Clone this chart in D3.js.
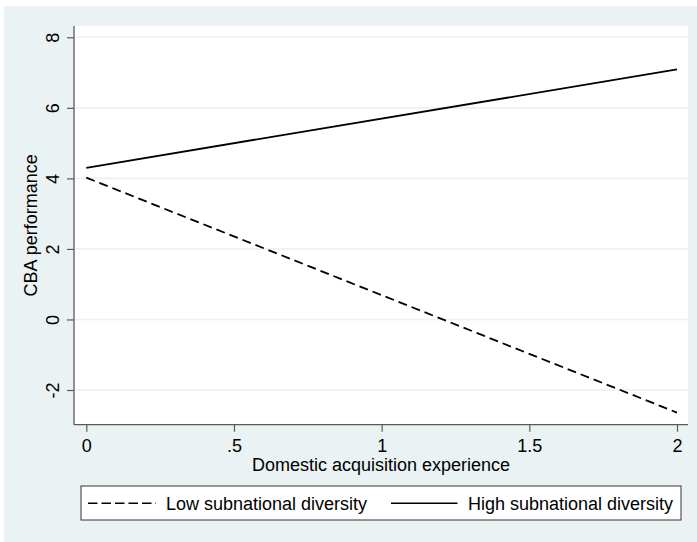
<!DOCTYPE html>
<html>
<head>
<meta charset="utf-8">
<script src="https://cdn.jsdelivr.net/npm/d3@7/dist/d3.min.js"></script>
<style>
  html, body { margin: 0; padding: 0; background: #ffffff; }
  svg { display: block; }
  text { font-family: "Liberation Sans", Arial, sans-serif; fill: #000; }
</style>
</head>
<body>
<svg id="chart" width="697" height="542"></svg>
<script>
// ---- data ----
const xValues = [0, 2];
const lowDiversity = [4.02, -2.64];
const highDiversity = [4.30, 7.09];
const seriesNames = ["Low subnational diversity", "High subnational diversity"];
const xTicks = [0, 0.5, 1, 1.5, 2];
const xTickLabels = ["0", ".5", "1", "1.5", "2"];
const yTicks = [-2, 0, 2, 4, 6, 8];
const yTickLabels = ["-2", "0", "2", "4", "6", "8"];
const xTitle = "Domestic acquisition experience";
const yTitle = "CBA performance";

// ---- layout ----
const svg = d3.select("#chart");
const W = 697, H = 542;
const plot = { left: 74, top: 26, right: 688, bottom: 424.7 };
const bgColor = "#eaf2f3";
const axisColor = "#5a5a5a";
const fontSize = 18;

svg.append("rect").attr("x", 4).attr("y", 6).attr("width", W - 4).attr("height", H - 6).attr("fill", bgColor);
svg.append("rect").attr("x", plot.left).attr("y", plot.top)
  .attr("width", plot.right - plot.left).attr("height", plot.bottom - plot.top).attr("fill", "#ffffff");

const x = d3.scaleLinear().domain([0, 2]).range([86.3, 677]);
const y = d3.scaleLinear().domain([-2, 8]).range([390, 37.3]);

// gridlines
svg.append("g").selectAll("line").data(yTicks).join("line")
  .attr("x1", plot.left).attr("x2", plot.right)
  .attr("y1", d => y(d)).attr("y2", d => y(d))
  .attr("stroke", bgColor).attr("stroke-width", 1.6);

// y axis
const yAxis = svg.append("g").attr("transform", `translate(${plot.left},0)`)
  .call(d3.axisLeft(y).tickValues(yTicks).tickSize(7).tickPadding(0)
    .tickFormat((d, i) => yTickLabels[i]));
yAxis.select(".domain").remove();
yAxis.selectAll(".tick line").attr("stroke", axisColor).attr("stroke-width", 1.2);
yAxis.selectAll(".tick text")
  .attr("x", null).attr("dy", null)
  .attr("transform", "translate(-15,0) rotate(-90)")
  .attr("text-anchor", "middle")
  .style("font-size", fontSize + "px")
  .style("font-family", '"Liberation Sans", Arial, sans-serif')
  .attr("fill", "#000");
svg.append("line").attr("x1", plot.left).attr("x2", plot.left)
  .attr("y1", plot.top).attr("y2", plot.bottom)
  .attr("stroke", axisColor).attr("stroke-width", 1.3);

// x axis
const xAxis = svg.append("g").attr("transform", `translate(0,${plot.bottom})`)
  .call(d3.axisBottom(x).tickValues(xTicks).tickSize(7).tickPadding(0)
    .tickFormat((d, i) => xTickLabels[i]));
xAxis.select(".domain").remove();
xAxis.selectAll(".tick line").attr("stroke", axisColor).attr("stroke-width", 1.2);
xAxis.selectAll(".tick text")
  .attr("y", 27.6).attr("dy", null)
  .attr("text-anchor", "middle")
  .style("font-size", fontSize + "px")
  .style("font-family", '"Liberation Sans", Arial, sans-serif')
  .attr("fill", "#000");
svg.append("line").attr("x1", plot.left).attr("x2", plot.right)
  .attr("y1", plot.bottom).attr("y2", plot.bottom)
  .attr("stroke", axisColor).attr("stroke-width", 1.3);

// titles
svg.append("text").attr("x", (plot.left + plot.right) / 2).attr("y", 470.7)
  .attr("text-anchor", "middle").style("font-size", fontSize + "px").text(xTitle);
svg.append("text").attr("transform", `translate(36.5,${(plot.top + plot.bottom) / 2}) rotate(-90)`)
  .attr("text-anchor", "middle").style("font-size", fontSize + "px").text(yTitle);

// lines
const line = d3.line().x(d => x(d[0])).y(d => y(d[1]));
const lowData = xValues.map((v, i) => [v, lowDiversity[i]]);
const highData = xValues.map((v, i) => [v, highDiversity[i]]);
const dash = "9,5";
svg.append("path").datum(lowData).attr("d", line)
  .attr("fill", "none").attr("stroke", "#000").attr("stroke-width", 1.8).attr("stroke-dasharray", dash);
svg.append("path").datum(highData).attr("d", line)
  .attr("fill", "none").attr("stroke", "#000").attr("stroke-width", 1.8);

// legend
const lg = svg.append("g");
lg.append("rect").attr("x", 81).attr("y", 486).attr("width", 600).attr("height", 34)
  .attr("fill", "#ffffff").attr("stroke", "#333").attr("stroke-width", 1);
lg.append("line").attr("x1", 88).attr("x2", 156).attr("y1", 503.3).attr("y2", 503.3)
  .attr("stroke", "#000").attr("stroke-width", 1.6).attr("stroke-dasharray", "9.5,4");
lg.append("text").attr("x", 166).attr("y", 510).style("font-size", fontSize + "px").text(seriesNames[0]);
lg.append("line").attr("x1", 391).attr("x2", 457.5).attr("y1", 503.3).attr("y2", 503.3)
  .attr("stroke", "#000").attr("stroke-width", 1.6);
lg.append("text").attr("x", 468).attr("y", 510).style("font-size", fontSize + "px").text(seriesNames[1]);
</script>
</body>
</html>
